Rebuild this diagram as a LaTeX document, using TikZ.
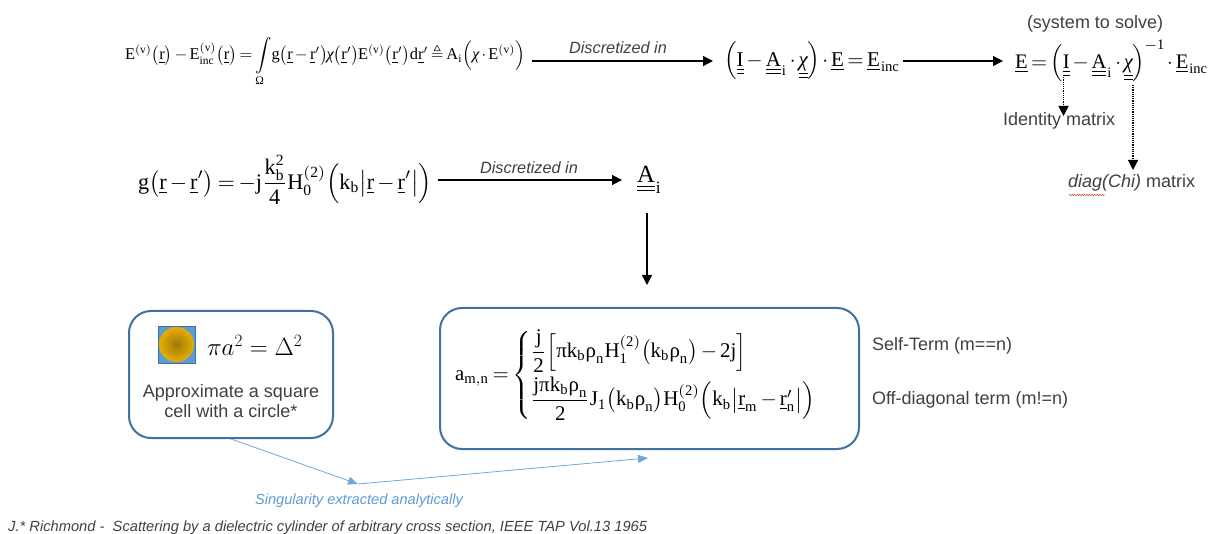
\documentclass[tikz,border=0pt]{standalone}
\usepackage{amsmath,amssymb}
\usepackage{graphicx}
\usepackage{fontspec}
\setmainfont{Liberation Serif}
\setmathrm{Liberation Serif}
\newfontfamily\lab{Liberation Sans}
\usetikzlibrary{arrows.meta,shadings,decorations.pathmorphing}
\definecolor{boxline}{HTML}{41719C}
\definecolor{thinblue}{HTML}{6FA8DC}
\definecolor{labelblue}{HTML}{5B9BD5}
\definecolor{txt}{HTML}{404040}
\definecolor{goldouter}{HTML}{E8AE00}
\definecolor{goldinner}{HTML}{9C7A0A}
\newcommand\gchi{\text{\itshape χ}}
\newcommand\gpi{\text{π}}
\newcommand\grho{\text{ρ}}
\newcommand\gomega{\text{Ω}}
\newcommand\ur{\underline{\mathrm{r}}}
\newcommand\uu[1]{\underline{\underline{\mathrm{#1}}}}
\newcommand\ue[1]{\underline{\mathrm{#1}}}
\newcommand\sized[2]{\resizebox{#1pt}{!}{$\thinmuskip=1mu\medmuskip=2.5mu\thickmuskip=3mu\displaystyle\mathrm{#2}$}}
\tikzset{
 x=1pt,y=-1pt,
 eq/.style={inner sep=0pt,outer sep=0pt,anchor=west},
 lbl/.style={inner sep=0pt,outer sep=0pt,font=\lab\fontsize{18}{20}\selectfont,text=txt},
 disc/.style={inner sep=0pt,outer sep=0pt,font=\lab\itshape\fontsize{16.3}{18}\selectfont,text=txt},
 conn/.style={draw=black,line width=1.3pt,-{Triangle[length=10pt,width=10pt]}},
 dotconn/.style={draw=black,line width=1.2pt,dash pattern=on 1.2pt off 1pt,-{Triangle[length=10pt,width=10pt]}},
 bluebox/.style={draw=boxline,line width=2pt,rounded corners=22pt,fill=white,inner sep=0pt},
 bluelink/.style={draw=thinblue,line width=0.8pt,-{Triangle[length=10pt,width=8pt]},color=thinblue},
}
\begin{document}
\begin{tikzpicture}
\useasboundingbox (0,0) rectangle (1217,534);
% equations
\node[inner sep=0pt,outer sep=0pt,anchor=base west] (eqa) at (125,60) {\sized{400}{E^{(v)}\bigl(\ur\bigr)-E^{(v)}_{inc}\bigl(\ur\bigr)=\int\limits_{\gomega}\!g\bigl(\ur-\ur'\bigr)\!\gchi\bigl(\ur'\bigr)\!E^{(v)}\bigl(\ur'\bigr)d\ur'\triangleq A_i\Bigl(\gchi\cdot E^{(v)}\Bigr)}};
\node[eq] (eqb) at (724,61) {\sized{176}{\left(\uu{I}-\uu{A}_{\,i}\cdot\uu{\gchi}\right)\!\cdot\ue{E}=\ue{E}_{\,inc}}};
\node[eq] (eqc) at (1015,61) {\sized{193}{\ue{E}=\left(\uu{I}-\uu{A}_{\,i}\cdot\uu{\gchi}\right)^{\!-1}\!\cdot\ue{E}_{\,inc}}};
\node[eq] (eqd) at (138,180) {\sized{294}{g\bigl(\ur-\ur'\bigr)=-j\frac{k_b^2}{4}H_0^{(2)}\Bigl(k_b\bigl|\ur-\ur'\bigr|\Bigr)}};
\node[eq] (eqe) at (637,180) {\sized{25}{\uu{A}_{\,i}}};
% labels on the top rows
\node[lbl] (sys) at (1095,24) {(system to solve)};
\node[disc] (da) at (618,48) {Discretized in};
\node[disc] (db) at (529,168) {Discretized in};
\node[lbl,anchor=west] (idm) at (1003,120.5) {Identity matrix};
\node[lbl,anchor=west] (dgm) at (1068,183) {\itshape diag(Chi)\upshape{} matrix};
% boxes
\node[bluebox,minimum width=204pt,minimum height=127pt] (boxl) at (231,374.5) {};
\node[bluebox,minimum width=419pt,minimum height=141pt] (boxr) at (649.5,378.5) {};
% box contents
\node[draw=boxline,line width=0.8pt,fill=labelblue,minimum size=37pt,inner sep=0pt] (sq) at (176.5,344.5) {};
\node[circle,minimum size=35pt,inner sep=0pt,inner color=goldinner,outer color=goldouter] (ci) at (176.5,344.5) {};
\node[eq] (pia) at (207,345) {\fontsize{26}{30}\selectfont$\pi a^2=\Delta^2$};
\node[lbl,align=center] (apx) at (231,401) {Approximate a square\\ cell with a circle*};
\node[eq] (eqf) at (455,375) {\sized{383}{a_{m,n}=\begin{cases}\mathrm{\dfrac{j}{2}\Bigl[\gpi k_b\grho_n H_1^{(2)}\bigl(k_b\grho_n\bigr)-2j\Bigr]}\\[5pt] \mathrm{\dfrac{j\gpi k_b\grho_n}{2}J_1\bigl(k_b\grho_n\bigr)H_0^{(2)}\Bigl(k_b\bigl|\ue{r}_m-\ue{r}'_n\bigr|\Bigr)}\end{cases}}};
\node[lbl,anchor=west] (self) at (872,345.5) {Self-Term (m==n)};
\node[lbl,anchor=west] (off) at (872,399.5) {Off-diagonal term (m!=n)};
% connectors
\draw[conn] ([xshift=7pt,yshift=-1pt]eqa.base east) -- ([xshift=-11pt]eqb.west);
\draw[conn] ([xshift=3pt]eqb.east) -- ([xshift=-12pt]eqc.west);
\draw[conn] ([xshift=6pt]eqd.east) -- ([xshift=-15pt]eqe.west);
\coordinate (ddA) at (1063.5,75);
\coordinate (ddAe) at (1063.5,116);
\coordinate (ddB) at (1133,85);
\coordinate (ddBe) at (1133,170);
\draw[dotconn] (ddA) -- (ddAe);
\draw[dotconn] (ddB) -- (ddBe);
\coordinate (eqeb) at (647,213);
\coordinate (eqet) at (647,285);
\draw[conn] (eqeb) -- (eqet);
% blue links
\coordinate (bend) at (358,484);
\coordinate (bendEnd) at (648,458);
\draw[bluelink] (boxl.south) -- (bend);
\draw[bluelink] (bend) -- (bendEnd);
\node[inner sep=0pt,font=\lab\itshape\fontsize{14.6}{16}\selectfont,text=labelblue] (sing) at (359,501) {Singularity extracted analytically};
\node[inner sep=0pt,anchor=west,font=\lab\itshape\fontsize{14.7}{16}\selectfont,text=txt] (foot) at (8,528) {J.* Richmond -\ \ Scattering by a dielectric cylinder of arbitrary cross section, IEEE TAP Vol.13 1965};
% spell-check squiggle
\draw[red!80!black,line width=0.4pt,decorate,decoration={snake,amplitude=0.6pt,segment length=2.5pt}] (1069,195) -- (1105,195);
\end{tikzpicture}
\end{document}
